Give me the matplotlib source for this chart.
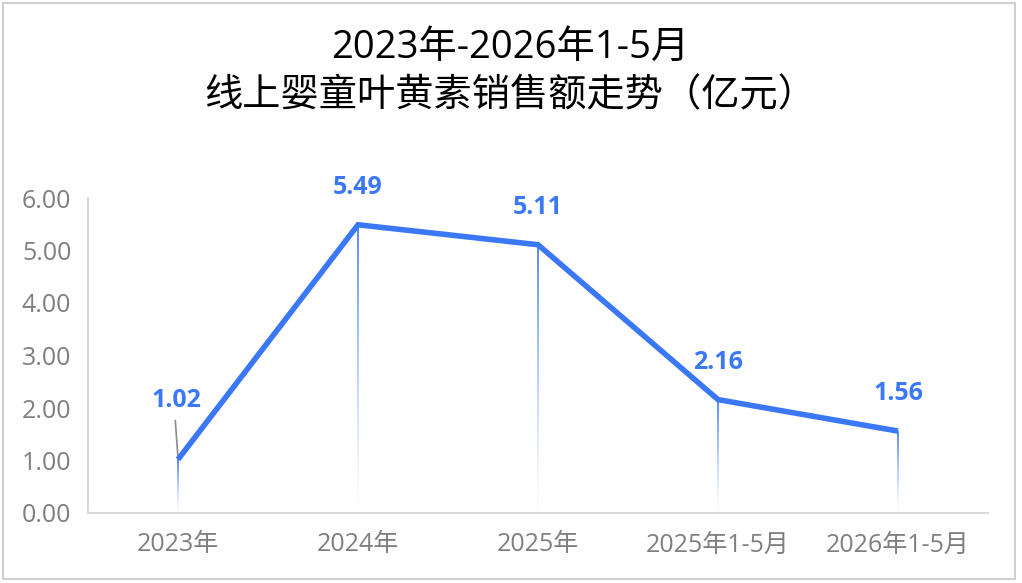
import matplotlib
matplotlib.use("Agg")
import matplotlib.pyplot as plt
from matplotlib.collections import LineCollection
from matplotlib.patches import Rectangle
import numpy as np

plt.rcParams['font.family'] = ['Open Sans', 'Noto Sans CJK SC', 'DejaVu Sans']

categories = ["2023年", "2024年", "2025年", "2025年1-5月", "2026年1-5月"]
values = [1.02, 5.49, 5.11, 2.16, 1.56]
yticks = [0, 1, 2, 3, 4, 5, 6]
title = "2023年-2026年1-5月\n线上婴童叶黄素销售额走势（亿元）"

W, H = 1022, 583
fig = plt.figure(figsize=(W / 100, H / 100), dpi=100)
fig.patch.set_facecolor("white")

# chart border
fig.add_artist(Rectangle((3 / W, 1 - 579 / H), (1015 - 3) / W, (579 - 3) / H,
                         transform=fig.transFigure, fill=False,
                         edgecolor="#D0D0D0", linewidth=1.5))

ax = fig.add_axes([88 / W, 1 - 513 / H, 900 / W, (513 - 198) / H])
blue = "#3A78F7"
x = np.arange(len(categories))

# gradient drop lines
segs, cols = [], []
n = 60
for xi, v in zip(x, values):
    ys = np.linspace(0, v, n + 1)
    for k in range(n):
        segs.append([(xi, ys[k]), (xi, ys[k + 1])])
        a = (k + 0.5) / n
        cols.append((0.23, 0.47, 0.97, a ** 1.3 * 0.95))
ax.add_collection(LineCollection(segs, colors=cols, linewidths=1.3, zorder=2))

ax.plot(x, values, color=blue, linewidth=4.0, solid_capstyle="butt",
        solid_joinstyle="miter", zorder=3)

for i, (xi, v) in enumerate(zip(x, values)):
    if i == 0:
        ax.annotate(f"{v:.2f}", xy=(xi, v), xytext=(xi - 0.01, v + 1.12),
                    ha="center", va="center", fontsize=18, fontweight="bold",
                    color=blue, zorder=4)
        ax.plot([xi - 0.015, xi], [v + 0.74, v + 0.02], color="#8C8C8C",
                linewidth=1.2, zorder=2)
    else:
        ax.annotate(f"{v:.2f}", xy=(xi, v), xytext=(0, 27),
                    textcoords="offset points", ha="center", va="center",
                    fontsize=18, fontweight="bold", color=blue, zorder=4)

ax.set_xlim(-0.5, len(categories) - 0.5)
ax.set_ylim(0, 6)
ax.set_yticks(yticks)
ax.set_yticklabels([f"{t:.2f}" for t in yticks])
ax.set_xticks(x)
ax.set_xticklabels(categories)
ax.tick_params(axis="both", length=0, labelsize=18, colors="#7F7F7F")
ax.tick_params(axis="y", pad=12)
ax.tick_params(axis="x", pad=14)
for s in ["top", "right"]:
    ax.spines[s].set_visible(False)
for s in ["left", "bottom"]:
    ax.spines[s].set_color("#D9D9D9")
    ax.spines[s].set_linewidth(1.5)
ax.set_facecolor("none")

fig.text(510 / W, 1 - 72 / H, title, ha="center", va="center",
         fontsize=27.5, color="black", linespacing=1.38)

fig.savefig("out.png", dpi=100, facecolor="white")
